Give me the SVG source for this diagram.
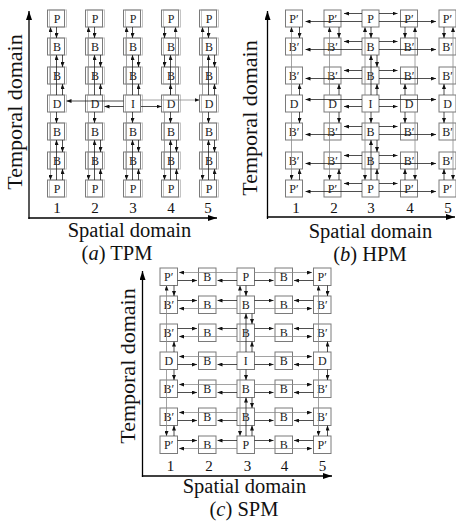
<svg xmlns="http://www.w3.org/2000/svg" width="456" height="524" viewBox="0 0 456 524">
<defs>
<style>
.b{fill:none;stroke:#7a7a7a;stroke-width:1}
.s{fill:none;stroke:#c4c4c4;stroke-width:1}
.t{font-family:"Liberation Serif","Times New Roman",serif;font-size:12px;text-anchor:middle;fill:#222}
.c{fill:none;stroke:#222;stroke-width:.8;marker-end:url(#ah)}
.g{fill:none;stroke:#8a8a8a;stroke-width:.8;marker-end:url(#ah)}
.ax{fill:none;stroke:#000;stroke-width:1.3;marker-end:url(#ax)}
.n{font-family:"Liberation Serif","Times New Roman",serif;font-size:15px;text-anchor:middle;fill:#111}
.lab{font-family:"Liberation Serif","Times New Roman",serif;font-size:20.5px;text-anchor:middle;fill:#111}
.tl{font-family:"Liberation Serif","Times New Roman",serif;font-size:22px;text-anchor:middle;fill:#111}
</style>
<marker id="ah" markerUnits="userSpaceOnUse" markerWidth="5" markerHeight="4" refX="5" refY="2" orient="auto"><path d="M0,0L5,2L0,4z" fill="#111"/></marker>
<marker id="ax" markerUnits="userSpaceOnUse" markerWidth="9" markerHeight="6" refX="9" refY="3" orient="auto"><path d="M0,0L9,3L0,6z" fill="#000"/></marker>
</defs>
<rect width="456" height="524" fill="#fff"/>

<!-- ===== Panel (a) TPM ===== -->
<g id="a-axes">
<path class="ax" d="M29 219V11"/>
<path class="ax" d="M28.4 218H217"/>
<text class="tl" transform="translate(22,112) rotate(-90)">Temporal domain</text>
<text class="n" x="57" y="213">1</text><text class="n" x="95" y="213">2</text><text class="n" x="133" y="213">3</text><text class="n" x="171" y="213">4</text><text class="n" x="208" y="213">5</text>
<text class="lab" x="129.5" y="237">Spatial domain</text>
<text class="lab" x="117" y="260">(<tspan font-style="italic">a</tspan>) TPM</text>
</g>
<g id="a-nodes">
<g id="a-c1r1" transform="translate(47.5,10)"><rect class="s" x="2" width="17" height="17"/><rect class="b" width="17" height="17"/><text class="t" x="9.5" y="12.8">P</text></g>
<g id="a-c1r2" transform="translate(47.5,38)"><rect class="s" x="2" width="17" height="17"/><rect class="b" width="17" height="17"/><text class="t" x="9.5" y="12.8">B</text></g>
<g id="a-c1r3" transform="translate(47.5,67)"><rect class="s" x="2" width="17" height="17"/><rect class="b" width="17" height="17"/><text class="t" x="9.5" y="12.8">B</text></g>
<g id="a-c1r4" transform="translate(47.5,95)"><rect class="s" x="2" width="17" height="17"/><rect class="b" width="17" height="17"/><text class="t" x="9.5" y="12.8">D</text></g>
<g id="a-c1r5" transform="translate(47.5,123)"><rect class="s" x="2" width="17" height="17"/><rect class="b" width="17" height="17"/><text class="t" x="9.5" y="12.8">B</text></g>
<g id="a-c1r6" transform="translate(47.5,152)"><rect class="s" x="2" width="17" height="17"/><rect class="b" width="17" height="17"/><text class="t" x="9.5" y="12.8">B</text></g>
<g id="a-c1r7" transform="translate(47.5,180)"><rect class="s" x="2" width="17" height="17"/><rect class="b" width="17" height="17"/><text class="t" x="9.5" y="12.8">P</text></g>
<g id="a-c2r1" transform="translate(85.5,10)"><rect class="s" x="2" width="17" height="17"/><rect class="b" width="17" height="17"/><text class="t" x="9.5" y="12.8">P</text></g>
<g id="a-c2r2" transform="translate(85.5,38)"><rect class="s" x="2" width="17" height="17"/><rect class="b" width="17" height="17"/><text class="t" x="9.5" y="12.8">B</text></g>
<g id="a-c2r3" transform="translate(85.5,67)"><rect class="s" x="2" width="17" height="17"/><rect class="b" width="17" height="17"/><text class="t" x="9.5" y="12.8">B</text></g>
<g id="a-c2r4" transform="translate(85.5,95)"><rect class="s" x="2" width="17" height="17"/><rect class="b" width="17" height="17"/><text class="t" x="9.5" y="12.8">D</text></g>
<g id="a-c2r5" transform="translate(85.5,123)"><rect class="s" x="2" width="17" height="17"/><rect class="b" width="17" height="17"/><text class="t" x="9.5" y="12.8">B</text></g>
<g id="a-c2r6" transform="translate(85.5,152)"><rect class="s" x="2" width="17" height="17"/><rect class="b" width="17" height="17"/><text class="t" x="9.5" y="12.8">B</text></g>
<g id="a-c2r7" transform="translate(85.5,180)"><rect class="s" x="2" width="17" height="17"/><rect class="b" width="17" height="17"/><text class="t" x="9.5" y="12.8">P</text></g>
<g id="a-c3r1" transform="translate(123.5,10)"><rect class="s" x="2" width="17" height="17"/><rect class="b" width="17" height="17"/><text class="t" x="9.5" y="12.8">P</text></g>
<g id="a-c3r2" transform="translate(123.5,38)"><rect class="s" x="2" width="17" height="17"/><rect class="b" width="17" height="17"/><text class="t" x="9.5" y="12.8">B</text></g>
<g id="a-c3r3" transform="translate(123.5,67)"><rect class="s" x="2" width="17" height="17"/><rect class="b" width="17" height="17"/><text class="t" x="9.5" y="12.8">B</text></g>
<g id="a-c3r4" transform="translate(123.5,95)"><rect class="s" x="2" width="17" height="17"/><rect class="b" width="17" height="17"/><text class="t" x="9.5" y="12.8">I</text></g>
<g id="a-c3r5" transform="translate(123.5,123)"><rect class="s" x="2" width="17" height="17"/><rect class="b" width="17" height="17"/><text class="t" x="9.5" y="12.8">B</text></g>
<g id="a-c3r6" transform="translate(123.5,152)"><rect class="s" x="2" width="17" height="17"/><rect class="b" width="17" height="17"/><text class="t" x="9.5" y="12.8">B</text></g>
<g id="a-c3r7" transform="translate(123.5,180)"><rect class="s" x="2" width="17" height="17"/><rect class="b" width="17" height="17"/><text class="t" x="9.5" y="12.8">P</text></g>
<g id="a-c4r1" transform="translate(161.5,10)"><rect class="s" x="2" width="17" height="17"/><rect class="b" width="17" height="17"/><text class="t" x="9.5" y="12.8">P</text></g>
<g id="a-c4r2" transform="translate(161.5,38)"><rect class="s" x="2" width="17" height="17"/><rect class="b" width="17" height="17"/><text class="t" x="9.5" y="12.8">B</text></g>
<g id="a-c4r3" transform="translate(161.5,67)"><rect class="s" x="2" width="17" height="17"/><rect class="b" width="17" height="17"/><text class="t" x="9.5" y="12.8">B</text></g>
<g id="a-c4r4" transform="translate(161.5,95)"><rect class="s" x="2" width="17" height="17"/><rect class="b" width="17" height="17"/><text class="t" x="9.5" y="12.8">D</text></g>
<g id="a-c4r5" transform="translate(161.5,123)"><rect class="s" x="2" width="17" height="17"/><rect class="b" width="17" height="17"/><text class="t" x="9.5" y="12.8">B</text></g>
<g id="a-c4r6" transform="translate(161.5,152)"><rect class="s" x="2" width="17" height="17"/><rect class="b" width="17" height="17"/><text class="t" x="9.5" y="12.8">B</text></g>
<g id="a-c4r7" transform="translate(161.5,180)"><rect class="s" x="2" width="17" height="17"/><rect class="b" width="17" height="17"/><text class="t" x="9.5" y="12.8">P</text></g>
<g id="a-c5r1" transform="translate(199.5,10)"><rect class="s" x="2" width="17" height="17"/><rect class="b" width="17" height="17"/><text class="t" x="9.5" y="12.8">P</text></g>
<g id="a-c5r2" transform="translate(199.5,38)"><rect class="s" x="2" width="17" height="17"/><rect class="b" width="17" height="17"/><text class="t" x="9.5" y="12.8">B</text></g>
<g id="a-c5r3" transform="translate(199.5,67)"><rect class="s" x="2" width="17" height="17"/><rect class="b" width="17" height="17"/><text class="t" x="9.5" y="12.8">B</text></g>
<g id="a-c5r4" transform="translate(199.5,95)"><rect class="s" x="2" width="17" height="17"/><rect class="b" width="17" height="17"/><text class="t" x="9.5" y="12.8">D</text></g>
<g id="a-c5r5" transform="translate(199.5,123)"><rect class="s" x="2" width="17" height="17"/><rect class="b" width="17" height="17"/><text class="t" x="9.5" y="12.8">B</text></g>
<g id="a-c5r6" transform="translate(199.5,152)"><rect class="s" x="2" width="17" height="17"/><rect class="b" width="17" height="17"/><text class="t" x="9.5" y="12.8">B</text></g>
<g id="a-c5r7" transform="translate(199.5,180)"><rect class="s" x="2" width="17" height="17"/><rect class="b" width="17" height="17"/><text class="t" x="9.5" y="12.8">P</text></g>
</g>
<g id="a-connectors">
<g transform="translate(47.5,0)"><path class="g" d="M3 95V27"/><path class="c" d="M9 27V38"/><path class="c" d="M9 95V55"/><path class="c" d="M15 55V67"/><path class="c" d="M15 95V84"/><path class="c" d="M9 112V123"/><path class="c" d="M9 180V140"/><path class="c" d="M15 140V152"/><path class="g" d="M3 112V180"/><path class="c" d="M15 180V169"/></g>
<g transform="translate(85.5,0)"><path class="g" d="M3 95V27"/><path class="c" d="M9 27V38"/><path class="c" d="M9 95V55"/><path class="c" d="M15 55V67"/><path class="c" d="M15 95V84"/><path class="c" d="M9 112V123"/><path class="c" d="M9 180V140"/><path class="c" d="M15 140V152"/><path class="g" d="M3 112V180"/><path class="c" d="M15 180V169"/></g>
<g transform="translate(123.5,0)"><path class="g" d="M3 95V27"/><path class="c" d="M9 27V38"/><path class="c" d="M9 95V55"/><path class="c" d="M15 55V67"/><path class="c" d="M15 95V84"/><path class="c" d="M9 112V123"/><path class="c" d="M9 180V140"/><path class="c" d="M15 140V152"/><path class="g" d="M3 112V180"/><path class="c" d="M15 180V169"/></g>
<g transform="translate(161.5,0)"><path class="c" d="M3 27V38"/><path class="g" d="M14 95V27"/><path class="c" d="M9 95V55"/><path class="c" d="M3 55V67"/><path class="c" d="M9 95V84"/><path class="c" d="M9 112V123"/><path class="c" d="M9 180V140"/><path class="c" d="M15 140V152"/><path class="g" d="M3 112V180"/><path class="c" d="M15 180V169"/></g>
<g transform="translate(199.5,0)"><path class="g" d="M3 95V27"/><path class="c" d="M9 27V38"/><path class="c" d="M9 95V55"/><path class="c" d="M15 55V67"/><path class="c" d="M15 95V84"/><path class="c" d="M9 112V123"/><path class="c" d="M9 180V140"/><path class="c" d="M15 140V152"/><path class="g" d="M3 112V180"/><path class="c" d="M15 180V169"/></g>
<path class="c" d="M123.5 101H66.5"/>
<path class="c" d="M123.5 106.5H104.5"/>
<path class="c" d="M141 106.5H161.5"/>
<path class="g" d="M141 100H199.5"/>
</g>

<!-- ===== Panel (b) HPM ===== -->
<g id="b-axes">
<path class="ax" d="M267.5 219V11"/>
<path class="ax" d="M266.9 217H455"/>
<text class="tl" transform="translate(257,118) rotate(-90)">Temporal domain</text>
<text class="n" x="296" y="213">1</text><text class="n" x="334" y="213">2</text><text class="n" x="371" y="213">3</text><text class="n" x="410" y="213">4</text><text class="n" x="448" y="213">5</text>
<text class="lab" x="370.5" y="237.5">Spatial domain</text>
<text class="lab" x="370" y="260.5">(<tspan font-style="italic">b</tspan>) HPM</text>
</g>
<g id="b-nodes">
<g id="b-c1r1" transform="translate(285.5,10)"><rect class="b" width="17" height="17"/><text class="t" x="8.5" y="12.8">P′</text></g>
<g id="b-c1r2" transform="translate(285.5,38)"><rect class="b" width="17" height="17"/><text class="t" x="8.5" y="12.8">B′</text></g>
<g id="b-c1r3" transform="translate(285.5,67)"><rect class="b" width="17" height="17"/><text class="t" x="8.5" y="12.8">B′</text></g>
<g id="b-c1r4" transform="translate(285.5,95)"><rect class="b" width="17" height="17"/><text class="t" x="8.5" y="12.8">D</text></g>
<g id="b-c1r5" transform="translate(285.5,123)"><rect class="b" width="17" height="17"/><text class="t" x="8.5" y="12.8">B′</text></g>
<g id="b-c1r6" transform="translate(285.5,152)"><rect class="b" width="17" height="17"/><text class="t" x="8.5" y="12.8">B′</text></g>
<g id="b-c1r7" transform="translate(285.5,180)"><rect class="b" width="17" height="17"/><text class="t" x="8.5" y="12.8">P′</text></g>
<g id="b-c2r1" transform="translate(324,10)"><rect class="b" width="17" height="17"/><text class="t" x="8.5" y="12.8">P′</text></g>
<g id="b-c2r2" transform="translate(324,38)"><rect class="b" width="17" height="17"/><text class="t" x="8.5" y="12.8">B′</text></g>
<g id="b-c2r3" transform="translate(324,67)"><rect class="b" width="17" height="17"/><text class="t" x="8.5" y="12.8">B′</text></g>
<g id="b-c2r4" transform="translate(324,95)"><rect class="b" width="17" height="17"/><text class="t" x="8.5" y="12.8">D</text></g>
<g id="b-c2r5" transform="translate(324,123)"><rect class="b" width="17" height="17"/><text class="t" x="8.5" y="12.8">B′</text></g>
<g id="b-c2r6" transform="translate(324,152)"><rect class="b" width="17" height="17"/><text class="t" x="8.5" y="12.8">B′</text></g>
<g id="b-c2r7" transform="translate(324,180)"><rect class="b" width="17" height="17"/><text class="t" x="8.5" y="12.8">P′</text></g>
<g id="b-c3r1" transform="translate(362,10)"><rect class="b" width="17" height="17"/><text class="t" x="8.5" y="12.8">P</text></g>
<g id="b-c3r2" transform="translate(362,38)"><rect class="b" width="17" height="17"/><text class="t" x="8.5" y="12.8">B</text></g>
<g id="b-c3r3" transform="translate(362,67)"><rect class="b" width="17" height="17"/><text class="t" x="8.5" y="12.8">B</text></g>
<g id="b-c3r4" transform="translate(362,95)"><rect class="b" width="17" height="17"/><text class="t" x="8.5" y="12.8">I</text></g>
<g id="b-c3r5" transform="translate(362,123)"><rect class="b" width="17" height="17"/><text class="t" x="8.5" y="12.8">B</text></g>
<g id="b-c3r6" transform="translate(362,152)"><rect class="b" width="17" height="17"/><text class="t" x="8.5" y="12.8">B</text></g>
<g id="b-c3r7" transform="translate(362,180)"><rect class="b" width="17" height="17"/><text class="t" x="8.5" y="12.8">P</text></g>
<g id="b-c4r1" transform="translate(400.5,10)"><rect class="b" width="17" height="17"/><text class="t" x="8.5" y="12.8">P′</text></g>
<g id="b-c4r2" transform="translate(400.5,38)"><rect class="b" width="17" height="17"/><text class="t" x="8.5" y="12.8">B′</text></g>
<g id="b-c4r3" transform="translate(400.5,67)"><rect class="b" width="17" height="17"/><text class="t" x="8.5" y="12.8">B′</text></g>
<g id="b-c4r4" transform="translate(400.5,95)"><rect class="b" width="17" height="17"/><text class="t" x="8.5" y="12.8">D</text></g>
<g id="b-c4r5" transform="translate(400.5,123)"><rect class="b" width="17" height="17"/><text class="t" x="8.5" y="12.8">B′</text></g>
<g id="b-c4r6" transform="translate(400.5,152)"><rect class="b" width="17" height="17"/><text class="t" x="8.5" y="12.8">B′</text></g>
<g id="b-c4r7" transform="translate(400.5,180)"><rect class="b" width="17" height="17"/><text class="t" x="8.5" y="12.8">P′</text></g>
<g id="b-c5r1" transform="translate(439,10)"><rect class="b" width="17" height="17"/><text class="t" x="8.5" y="12.8">P′</text></g>
<g id="b-c5r2" transform="translate(439,38)"><rect class="b" width="17" height="17"/><text class="t" x="8.5" y="12.8">B′</text></g>
<g id="b-c5r3" transform="translate(439,67)"><rect class="b" width="17" height="17"/><text class="t" x="8.5" y="12.8">B′</text></g>
<g id="b-c5r4" transform="translate(439,95)"><rect class="b" width="17" height="17"/><text class="t" x="8.5" y="12.8">D</text></g>
<g id="b-c5r5" transform="translate(439,123)"><rect class="b" width="17" height="17"/><text class="t" x="8.5" y="12.8">B′</text></g>
<g id="b-c5r6" transform="translate(439,152)"><rect class="b" width="17" height="17"/><text class="t" x="8.5" y="12.8">B′</text></g>
<g id="b-c5r7" transform="translate(439,180)"><rect class="b" width="17" height="17"/><text class="t" x="8.5" y="12.8">P′</text></g>
</g>
<g id="b-connectors">
<path class="g" d="M291.5 95V27"/><path class="g" d="M291.5 112V180"/><path class="c" d="M299.5 27V38"/><path class="c" d="M299.5 95V84"/><path class="c" d="M299.5 112V123"/><path class="c" d="M299.5 180V169"/>
<path class="g" d="M329.5 95V27"/><path class="g" d="M329.5 112V180"/><path class="c" d="M339 27V38"/><path class="c" d="M339 95V84"/><path class="c" d="M339 112V123"/><path class="c" d="M339 180V169"/>
<g transform="translate(362,0)"><path class="g" d="M3 95V27"/><path class="c" d="M9 27V38"/><path class="c" d="M9 95V55"/><path class="c" d="M15 55V67"/><path class="c" d="M15 95V84"/><path class="c" d="M9 112V123"/><path class="c" d="M9 180V140"/><path class="c" d="M15 140V152"/><path class="g" d="M3 112V180"/><path class="c" d="M15 180V169"/></g>
<path class="g" d="M415 95V27"/><path class="g" d="M415 112V180"/><path class="c" d="M405 27V38"/><path class="c" d="M405 95V84"/><path class="c" d="M405 112V123"/><path class="c" d="M405 180V169"/>
<path class="g" d="M453 95V27"/><path class="g" d="M453 112V180"/><path class="c" d="M444 27V38"/><path class="c" d="M444 95V84"/><path class="c" d="M444 112V123"/><path class="c" d="M444 180V169"/>
<path class="c" d="M362 13.5H344"/><path class="c" d="M362 21.5H305.5"/><path class="c" d="M379 13.5H397.5"/><path class="c" d="M379 21.5H436"/>
<path class="c" d="M362 41.5H344"/><path class="c" d="M362 49.5H305.5"/><path class="c" d="M379 41.5H397.5"/><path class="c" d="M379 49.5H436"/>
<path class="c" d="M362 70.5H344"/><path class="c" d="M362 78.5H305.5"/><path class="c" d="M379 70.5H397.5"/><path class="c" d="M379 78.5H436"/>
<path class="c" d="M362 106.5H344"/><path class="c" d="M362 99.5H305.5"/><path class="c" d="M379 106.5H397.5"/><path class="c" d="M379 99.5H436"/>
<path class="c" d="M362 126.5H344"/><path class="c" d="M362 134.5H305.5"/><path class="c" d="M379 126.5H397.5"/><path class="c" d="M379 134.5H436"/>
<path class="c" d="M362 155.5H344"/><path class="c" d="M362 163.5H305.5"/><path class="c" d="M379 155.5H397.5"/><path class="c" d="M379 163.5H436"/>
<path class="c" d="M362 183.5H344"/><path class="c" d="M362 191.5H305.5"/><path class="c" d="M379 183.5H397.5"/><path class="c" d="M379 191.5H436"/>
</g>

<!-- ===== Panel (c) SPM ===== -->
<g id="c-axes">
<path class="ax" d="M142.5 477V271"/>
<path class="ax" d="M141.9 476H332"/>
<text class="tl" transform="translate(135,366) rotate(-90)">Temporal domain</text>
<text class="n" x="170.5" y="471">1</text><text class="n" x="209" y="471">2</text><text class="n" x="247.5" y="471">3</text><text class="n" x="284.5" y="471">4</text><text class="n" x="322.5" y="471">5</text>
<text class="lab" x="244.5" y="493">Spatial domain</text>
<text class="lab" x="244" y="516">(<tspan font-style="italic">c</tspan>) SPM</text>
</g>
<g id="c-nodes">
<g id="c-c1r1" transform="translate(160,268)"><rect class="b" width="17.5" height="17.5"/><text class="t" x="8.75" y="13">P′</text></g>
<g id="c-c1r2" transform="translate(160,296)"><rect class="b" width="17.5" height="17.5"/><text class="t" x="8.75" y="13">B′</text></g>
<g id="c-c1r3" transform="translate(160,324)"><rect class="b" width="17.5" height="17.5"/><text class="t" x="8.75" y="13">B′</text></g>
<g id="c-c1r4" transform="translate(160,352)"><rect class="b" width="17.5" height="17.5"/><text class="t" x="8.75" y="13">D</text></g>
<g id="c-c1r5" transform="translate(160,380)"><rect class="b" width="17.5" height="17.5"/><text class="t" x="8.75" y="13">B′</text></g>
<g id="c-c1r6" transform="translate(160,408)"><rect class="b" width="17.5" height="17.5"/><text class="t" x="8.75" y="13">B′</text></g>
<g id="c-c1r7" transform="translate(160,436)"><rect class="b" width="17.5" height="17.5"/><text class="t" x="8.75" y="13">P′</text></g>
<g id="c-c2r1" transform="translate(198.5,268)"><rect class="b" width="17.5" height="17.5"/><text class="t" x="8.75" y="13">B</text></g>
<g id="c-c2r2" transform="translate(198.5,296)"><rect class="b" width="17.5" height="17.5"/><text class="t" x="8.75" y="13">B</text></g>
<g id="c-c2r3" transform="translate(198.5,324)"><rect class="b" width="17.5" height="17.5"/><text class="t" x="8.75" y="13">B</text></g>
<g id="c-c2r4" transform="translate(198.5,352)"><rect class="b" width="17.5" height="17.5"/><text class="t" x="8.75" y="13">B</text></g>
<g id="c-c2r5" transform="translate(198.5,380)"><rect class="b" width="17.5" height="17.5"/><text class="t" x="8.75" y="13">B</text></g>
<g id="c-c2r6" transform="translate(198.5,408)"><rect class="b" width="17.5" height="17.5"/><text class="t" x="8.75" y="13">B</text></g>
<g id="c-c2r7" transform="translate(198.5,436)"><rect class="b" width="17.5" height="17.5"/><text class="t" x="8.75" y="13">B</text></g>
<g id="c-c3r1" transform="translate(237,268)"><rect class="b" width="17.5" height="17.5"/><text class="t" x="8.75" y="13">P</text></g>
<g id="c-c3r2" transform="translate(237,296)"><rect class="b" width="17.5" height="17.5"/><text class="t" x="8.75" y="13">B</text></g>
<g id="c-c3r3" transform="translate(237,324)"><rect class="b" width="17.5" height="17.5"/><text class="t" x="8.75" y="13">B</text></g>
<g id="c-c3r4" transform="translate(237,352)"><rect class="b" width="17.5" height="17.5"/><text class="t" x="8.75" y="13">I</text></g>
<g id="c-c3r5" transform="translate(237,380)"><rect class="b" width="17.5" height="17.5"/><text class="t" x="8.75" y="13">B</text></g>
<g id="c-c3r6" transform="translate(237,408)"><rect class="b" width="17.5" height="17.5"/><text class="t" x="8.75" y="13">B</text></g>
<g id="c-c3r7" transform="translate(237,436)"><rect class="b" width="17.5" height="17.5"/><text class="t" x="8.75" y="13">P</text></g>
<g id="c-c4r1" transform="translate(275,268)"><rect class="b" width="17.5" height="17.5"/><text class="t" x="8.75" y="13">B</text></g>
<g id="c-c4r2" transform="translate(275,296)"><rect class="b" width="17.5" height="17.5"/><text class="t" x="8.75" y="13">B</text></g>
<g id="c-c4r3" transform="translate(275,324)"><rect class="b" width="17.5" height="17.5"/><text class="t" x="8.75" y="13">B</text></g>
<g id="c-c4r4" transform="translate(275,352)"><rect class="b" width="17.5" height="17.5"/><text class="t" x="8.75" y="13">B</text></g>
<g id="c-c4r5" transform="translate(275,380)"><rect class="b" width="17.5" height="17.5"/><text class="t" x="8.75" y="13">B</text></g>
<g id="c-c4r6" transform="translate(275,408)"><rect class="b" width="17.5" height="17.5"/><text class="t" x="8.75" y="13">B</text></g>
<g id="c-c4r7" transform="translate(275,436)"><rect class="b" width="17.5" height="17.5"/><text class="t" x="8.75" y="13">B</text></g>
<g id="c-c5r1" transform="translate(313.5,268)"><rect class="b" width="17.5" height="17.5"/><text class="t" x="8.75" y="13">P′</text></g>
<g id="c-c5r2" transform="translate(313.5,296)"><rect class="b" width="17.5" height="17.5"/><text class="t" x="8.75" y="13">B′</text></g>
<g id="c-c5r3" transform="translate(313.5,324)"><rect class="b" width="17.5" height="17.5"/><text class="t" x="8.75" y="13">B′</text></g>
<g id="c-c5r4" transform="translate(313.5,352)"><rect class="b" width="17.5" height="17.5"/><text class="t" x="8.75" y="13">D</text></g>
<g id="c-c5r5" transform="translate(313.5,380)"><rect class="b" width="17.5" height="17.5"/><text class="t" x="8.75" y="13">B′</text></g>
<g id="c-c5r6" transform="translate(313.5,408)"><rect class="b" width="17.5" height="17.5"/><text class="t" x="8.75" y="13">B′</text></g>
<g id="c-c5r7" transform="translate(313.5,436)"><rect class="b" width="17.5" height="17.5"/><text class="t" x="8.75" y="13">P′</text></g>
</g>
<g id="c-connectors">
<path class="g" d="M166.5 352V285.5"/><path class="g" d="M166.5 369.5V436"/><path class="c" d="M174 285.5V296"/><path class="c" d="M174 352V341.5"/><path class="c" d="M174 369.5V380"/><path class="c" d="M174 436V425.5"/>
<g transform="translate(237,0)"><path class="g" d="M3 352V285.5"/><path class="c" d="M9 285.5V296"/><path class="c" d="M9 352V313.5"/><path class="c" d="M15 313.5V324"/><path class="c" d="M15 352V341.5"/><path class="c" d="M9 369.5V380"/><path class="c" d="M9 436V397.5"/><path class="c" d="M15 397.5V408"/><path class="g" d="M3 369.5V436"/><path class="c" d="M15 436V425.5"/></g>
<path class="g" d="M318.5 352V285.5"/><path class="g" d="M318.5 369.5V436"/><path class="c" d="M327.5 285.5V296"/><path class="c" d="M327.5 352V341.5"/><path class="c" d="M327.5 369.5V380"/><path class="c" d="M327.5 436V425.5"/>
<path class="g" d="M237 272.5H179"/><path class="g" d="M254.5 272.5H312"/><path class="c" d="M177.5 280.5H197"/><path class="c" d="M237 280.5H217.5"/><path class="c" d="M313.5 280.5H294"/><path class="c" d="M254.5 280.5H273.5"/>
<path class="g" d="M237 308.5H179"/><path class="g" d="M254.5 308.5H312"/><path class="c" d="M177.5 300.5H197"/><path class="c" d="M237 300.5H217.5"/><path class="c" d="M313.5 300.5H294"/><path class="c" d="M254.5 300.5H273.5"/>
<path class="g" d="M237 336.5H179"/><path class="g" d="M254.5 336.5H312"/><path class="c" d="M177.5 328.5H197"/><path class="c" d="M237 328.5H217.5"/><path class="c" d="M313.5 328.5H294"/><path class="c" d="M254.5 328.5H273.5"/>
<path class="g" d="M237 356.5H179"/><path class="g" d="M254.5 356.5H312"/><path class="c" d="M177.5 364.5H197"/><path class="c" d="M237 364.5H217.5"/><path class="c" d="M313.5 364.5H294"/><path class="c" d="M254.5 364.5H273.5"/>
<path class="g" d="M237 384.5H179"/><path class="g" d="M254.5 384.5H312"/><path class="c" d="M177.5 392.5H197"/><path class="c" d="M237 392.5H217.5"/><path class="c" d="M313.5 392.5H294"/><path class="c" d="M254.5 392.5H273.5"/>
<path class="g" d="M237 412.5H179"/><path class="g" d="M254.5 412.5H312"/><path class="c" d="M177.5 420.5H197"/><path class="c" d="M237 420.5H217.5"/><path class="c" d="M313.5 420.5H294"/><path class="c" d="M254.5 420.5H273.5"/>
<path class="g" d="M237 448.5H179"/><path class="g" d="M254.5 448.5H312"/><path class="c" d="M177.5 440.5H197"/><path class="c" d="M237 440.5H217.5"/><path class="c" d="M313.5 440.5H294"/><path class="c" d="M254.5 440.5H273.5"/>
</g>
</svg>
